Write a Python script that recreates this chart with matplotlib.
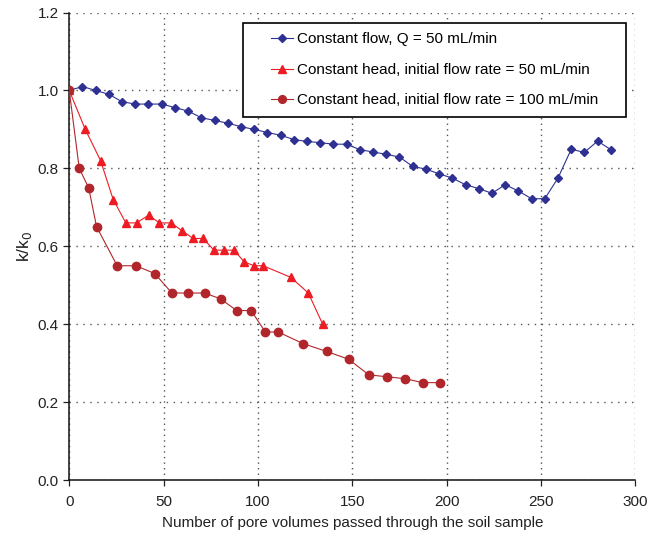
import matplotlib
matplotlib.use("Agg")
import matplotlib.pyplot as plt
from matplotlib.legend_handler import HandlerLine2D

plt.rcParams['font.family'] = ['Liberation Sans', 'DejaVu Sans']

# Constant flow, Q = 50 mL/min
cf_x = [0, 7, 14, 21, 28, 35, 42, 49, 56, 63, 70, 77, 84, 91, 98, 105, 112,
        119, 126, 133, 140, 147, 154, 161, 168, 175, 182, 189, 196, 203, 210,
        217, 224, 231, 238, 245, 252, 259, 266, 273, 280, 287]
cf_y = [1.0, 1.01, 1.0, 0.99, 0.971, 0.965, 0.965, 0.965, 0.956, 0.947, 0.93,
        0.923, 0.916, 0.907, 0.9, 0.892, 0.885, 0.874, 0.869, 0.866, 0.862,
        0.862, 0.848, 0.842, 0.836, 0.829, 0.805, 0.798, 0.786, 0.775, 0.758,
        0.748, 0.736, 0.758, 0.742, 0.722, 0.722, 0.775, 0.849, 0.841, 0.87, 0.848]

# Constant head, initial flow rate = 50 mL/min
ch50_x = [0, 8.5, 16.6, 23.3, 30, 35.7, 42.1, 47.7, 54, 59.7, 65.7, 71, 76.7,
          82, 87.4, 92.7, 97.9, 102.8, 117.5, 126.7, 134.3]
ch50_y = [1.0, 0.9, 0.82, 0.72, 0.66, 0.66, 0.68, 0.66, 0.66, 0.64, 0.62, 0.62,
          0.59, 0.59, 0.59, 0.56, 0.55, 0.55, 0.52, 0.48, 0.40]

# Constant head, initial flow rate = 100 mL/min
ch100_x = [0, 5.3, 10.3, 14.5, 25.4, 35.3, 45.3, 54.4, 63, 71.8, 80.2, 88.7,
           96.4, 103.9, 110.7, 124, 136.4, 148.1, 158.7, 168.5, 178.1, 187.3, 196.5]
ch100_y = [1.0, 0.80, 0.75, 0.65, 0.55, 0.55, 0.53, 0.48, 0.48, 0.48, 0.465,
           0.435, 0.435, 0.38, 0.38, 0.35, 0.33, 0.31, 0.27, 0.265, 0.26, 0.25, 0.25]

labels = ["Constant flow, Q = 50 mL/min",
          "Constant head, initial flow rate = 50 mL/min",
          "Constant head, initial flow rate = 100 mL/min"]

x_ticks = [0, 50, 100, 150, 200, 250, 300]
y_ticks = [0.0, 0.2, 0.4, 0.6, 0.8, 1.0, 1.2]

fig = plt.figure(figsize=(6.47, 5.44), dpi=100)
ax = fig.add_axes([0.107, 0.1176, 0.875, 0.8594])

l1, = ax.plot(cf_x, cf_y, color='#2E3192', lw=0.8, marker='D', ms=3.7,
              mec='#2E3192', mfc='#2E3192', label=labels[0], zorder=3)
l2, = ax.plot(ch50_x, ch50_y, color='#ED1C24', lw=0.8, marker='^', ms=6.4,
              mec='#ED1C24', mfc='#ED1C24', label=labels[1], zorder=3)
l3, = ax.plot(ch100_x, ch100_y, color='#B0262B', lw=0.8, marker='o', ms=6.0,
              mec='#B0262B', mfc='#B0262B', label=labels[2], zorder=3)

ax.set_xlim(0, 300)
ax.set_ylim(0, 1.2)
ax.set_xticks(x_ticks)
ax.set_yticks(y_ticks)
ax.set_yticklabels([f"{v:.1f}" for v in y_ticks])
ax.tick_params(axis='both', direction='out', length=4, width=0.9,
               labelsize=11, colors='#222222')
ax.tick_params(axis='x', pad=7)
ax.xaxis.grid(True, linestyle=(0, (1, 3)), color='#555555', linewidth=1.0)
ax.yaxis.grid(True, linestyle=(0, (1, 4)), color='#555555', linewidth=1.0)
ax.set_axisbelow(True)
for s in ['top', 'right']:
    ax.spines[s].set_visible(False)
for s in ['left', 'bottom']:
    ax.spines[s].set_linewidth(1.1)
    ax.spines[s].set_color('#111111')

ax.set_xlabel("Number of pore volumes passed through the soil sample",
              fontsize=11, labelpad=5, color='#222222')
ax.set_ylabel("k/k$_0$", fontsize=12.5, labelpad=3, color='#222222')

hmap = {h: HandlerLine2D(xpad=1.2) for h in (l1, l2, l3)}
leg = ax.legend(loc='upper left', bbox_to_anchor=(0.3074, 0.7823, 0.6755, 0.1946),
                mode='expand', fontsize=11, frameon=True, fancybox=False,
                framealpha=1, edgecolor='black', handlelength=2.67,
                handletextpad=0.24, labelspacing=1.08, borderpad=0.6,
                borderaxespad=0, handler_map=hmap)
leg.get_frame().set_linewidth(1.2)
for h, s in zip(leg.legend_handles, [4.0, 5.6, 5.6]):
    h.set_markersize(s)

fig.savefig("out.png", dpi=100)
